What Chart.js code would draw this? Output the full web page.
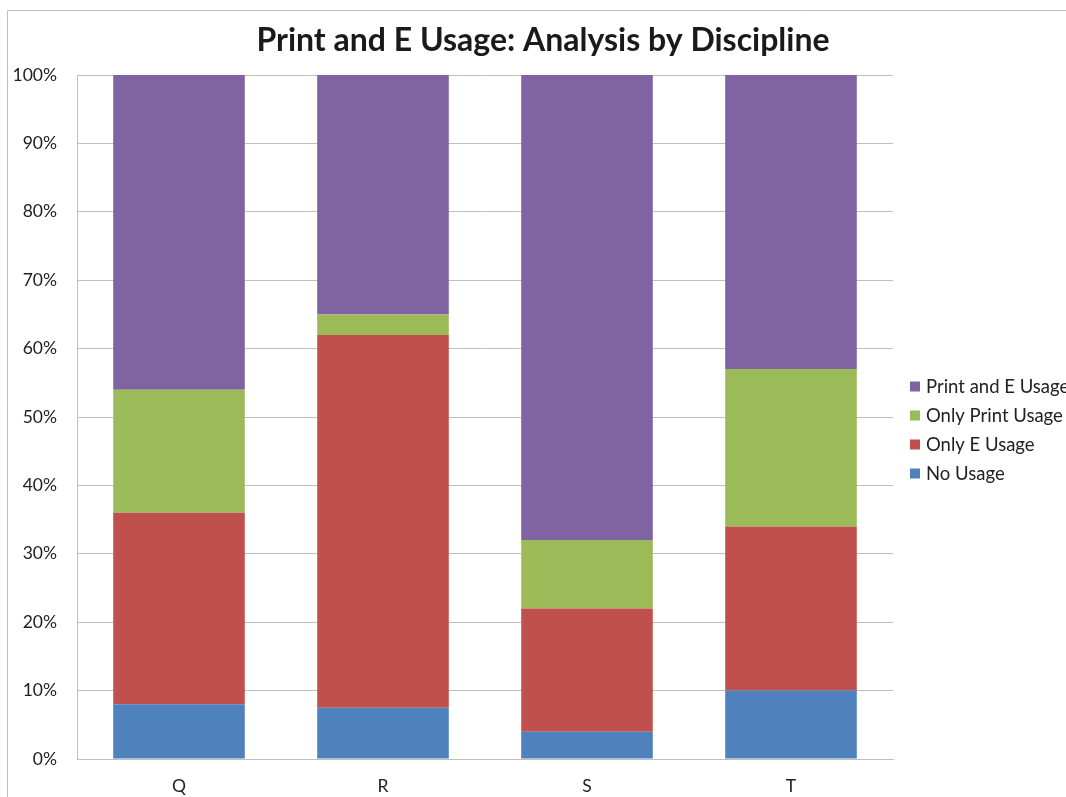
<!DOCTYPE html>
<html>
<head>
<meta charset="utf-8">
<script src="https://cdn.jsdelivr.net/npm/chart.js@4/dist/chart.umd.min.js"></script>
<style>
  html, body { margin: 0; padding: 0; background: #fff; overflow: hidden; }
  #wrap { position: absolute; left: 0; top: 0; width: 1066px; height: 797px; }
</style>
</head>
<body>
<div id="wrap"><canvas id="chart" width="1066" height="797"></canvas></div>
<script>
// Disciplines along the x axis
const categories = ['Q', 'R', 'S', 'T'];

// Share of titles (%) per usage type, stacked bottom to top
const noUsage        = [8, 7.5, 4, 10];
const onlyEUsage     = [28, 54.5, 18, 24];
const onlyPrintUsage = [18, 3, 10, 23];
const printAndEUsage = [46, 35, 68, 43];

const seriesNames  = ['No Usage', 'Only E Usage', 'Only Print Usage', 'Print and E Usage'];
const seriesColors = ['#4F81BD', '#C0504D', '#9BBB59', '#8064A2'];

const yTicks = [0, 10, 20, 30, 40, 50, 60, 70, 80, 90, 100];

const chartTitle = 'Print and E Usage: Analysis by Discipline';

const FONT = 'Lato, "Open Sans", sans-serif';

// Frame around the whole chart object
const framePlugin = {
  id: 'frame',
  beforeDraw(chart) {
    const ctx = chart.ctx;
    ctx.save();
    ctx.fillStyle = '#fff';
    ctx.fillRect(0, 0, chart.width, chart.height);
    ctx.strokeStyle = '#bfbfbf';
    ctx.lineWidth = 1;
    ctx.beginPath();
    ctx.moveTo(7.5, chart.height);
    ctx.lineTo(7.5, 10.5);
    ctx.lineTo(chart.width, 10.5);
    ctx.stroke();
    ctx.restore();
  }
};

// Title centred across the whole chart object, not just the plot
const topTitle = {
  id: 'topTitle',
  afterDraw(chart) {
    const ctx = chart.ctx;
    ctx.save();
    ctx.font = 'bold 32px ' + FONT;
    ctx.fillStyle = '#1a1a1a';
    ctx.textAlign = 'center';
    ctx.textBaseline = 'middle';
    ctx.fillText(chartTitle, 543, 41);
    ctx.restore();
  }
};

// Legend to the right of the plot, listed top-down in reverse stack order
const sideLegend = {
  id: 'sideLegend',
  afterDraw(chart) {
    const ctx = chart.ctx;
    const area = chart.chartArea;
    const ds = chart.data.datasets.slice().reverse();
    const rowH = 29;
    const midY = (area.top + area.bottom) / 2 + 13;
    const startY = midY - (ds.length - 1) * rowH / 2;
    const boxX = area.right + 17;
    ctx.save();
    ctx.font = '18.5px ' + FONT;
    ctx.textBaseline = 'middle';
    ds.forEach((d, i) => {
      const y = startY + i * rowH;
      ctx.fillStyle = d.backgroundColor;
      ctx.fillRect(boxX, y - 5, 10, 10);
      ctx.fillStyle = '#222';
      ctx.fillText(d.label, boxX + 16, y + 1);
    });
    ctx.restore();
  }
};

const datasets = [noUsage, onlyEUsage, onlyPrintUsage, printAndEUsage].map((vals, i) => ({
  label: seriesNames[i],
  data: vals,
  backgroundColor: seriesColors[i],
  borderWidth: 0,
  barPercentage: 0.645,
  categoryPercentage: 1.0
}));

new Chart(document.getElementById('chart'), {
  type: 'bar',
  data: { labels: categories, datasets },
  options: {
    responsive: false,
    animation: false,
    layout: { padding: { left: 7, right: 173, top: 75, bottom: 0 } },
    plugins: {
      legend: { display: false },
      tooltip: { enabled: false },
      title: { display: false }
    },
    scales: {
      x: {
        stacked: true,
        grid: { display: false, drawTicks: false },
        border: { display: true, color: '#bfbfbf' },
        ticks: { color: '#222', font: { family: FONT, size: 17.5 }, padding: 17 },
        afterFit(scale) { scale.height = 38; }
      },
      y: {
        stacked: true,
        min: 0,
        max: 100,
        afterBuildTicks(scale) { scale.ticks = yTicks.map(v => ({ value: v })); },
        grid: { color: '#bfbfbf', drawTicks: false },
        border: { display: true, color: '#bfbfbf' },
        ticks: {
          color: '#222',
          font: { family: FONT, size: 17.5 },
          padding: 20,
          callback: v => v + '%'
        },
        afterFit(scale) { scale.width = 70; }
      }
    }
  },
  plugins: [framePlugin, topTitle, sideLegend]
});
</script>
</body>
</html>
